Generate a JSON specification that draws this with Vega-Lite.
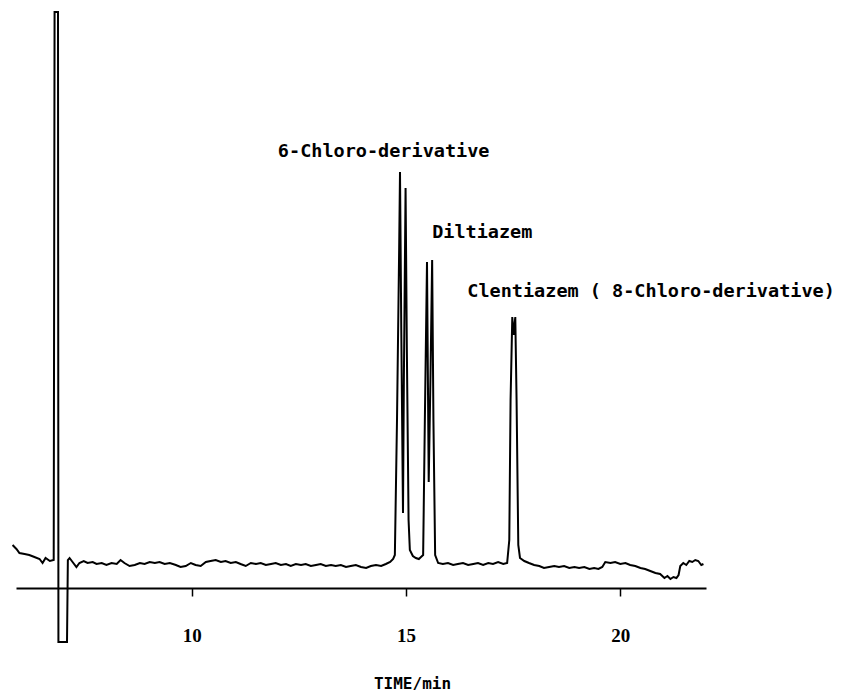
{
  "$schema": "https://vega.github.io/schema/vega-lite/v6.json",
  "width": 690,
  "height": 576,
  "autosize": {"type": "none"},
  "padding": {"left": 16, "top": 12, "right": 139, "bottom": 103},
  "background": "white",
  "config": {"view": {"stroke": null}},
  "layer": [
    {
      "data": {"values": [
        {"t": 5.82, "v": 43}, {"t": 5.91, "v": 39}, {"t": 5.98, "v": 35}, {"t": 6.10, "v": 34}, {"t": 6.21, "v": 33},
        {"t": 6.33, "v": 31}, {"t": 6.45, "v": 29}, {"t": 6.52, "v": 25}, {"t": 6.59, "v": 30}, {"t": 6.69, "v": 27},
        {"t": 6.78, "v": 28}, {"t": 6.80, "v": 576}, {"t": 6.88, "v": 576}, {"t": 6.89, "v": -54}, {"t": 7.09, "v": -54},
        {"t": 7.11, "v": 28}, {"t": 7.15, "v": 30}, {"t": 7.22, "v": 26}, {"t": 7.31, "v": 21}, {"t": 7.38, "v": 25},
        {"t": 7.48, "v": 27}, {"t": 7.57, "v": 25}, {"t": 7.69, "v": 26}, {"t": 7.78, "v": 24}, {"t": 7.90, "v": 25},
        {"t": 8.01, "v": 23}, {"t": 8.13, "v": 25}, {"t": 8.25, "v": 24}, {"t": 8.34, "v": 28}, {"t": 8.43, "v": 25},
        {"t": 8.55, "v": 22}, {"t": 8.67, "v": 23}, {"t": 8.79, "v": 25}, {"t": 8.90, "v": 24}, {"t": 9.02, "v": 26},
        {"t": 9.14, "v": 25}, {"t": 9.25, "v": 26}, {"t": 9.37, "v": 24}, {"t": 9.49, "v": 25}, {"t": 9.63, "v": 23},
        {"t": 9.74, "v": 21}, {"t": 9.86, "v": 22}, {"t": 9.98, "v": 25}, {"t": 10.09, "v": 23}, {"t": 10.21, "v": 22},
        {"t": 10.33, "v": 26}, {"t": 10.44, "v": 27}, {"t": 10.56, "v": 28}, {"t": 10.68, "v": 26}, {"t": 10.79, "v": 27},
        {"t": 10.91, "v": 25}, {"t": 11.03, "v": 26}, {"t": 11.14, "v": 24}, {"t": 11.26, "v": 22}, {"t": 11.38, "v": 25},
        {"t": 11.50, "v": 24}, {"t": 11.61, "v": 25}, {"t": 11.73, "v": 23}, {"t": 11.85, "v": 24}, {"t": 11.96, "v": 25},
        {"t": 12.08, "v": 23}, {"t": 12.20, "v": 24}, {"t": 12.31, "v": 22}, {"t": 12.43, "v": 24}, {"t": 12.55, "v": 23},
        {"t": 12.66, "v": 24}, {"t": 12.78, "v": 22}, {"t": 12.90, "v": 23}, {"t": 13.01, "v": 24}, {"t": 13.13, "v": 22},
        {"t": 13.25, "v": 23}, {"t": 13.36, "v": 22}, {"t": 13.48, "v": 23}, {"t": 13.60, "v": 21}, {"t": 13.71, "v": 22},
        {"t": 13.83, "v": 23}, {"t": 13.95, "v": 21}, {"t": 14.07, "v": 20}, {"t": 14.18, "v": 22}, {"t": 14.30, "v": 23},
        {"t": 14.42, "v": 22}, {"t": 14.53, "v": 24}, {"t": 14.63, "v": 26}, {"t": 14.70, "v": 29}, {"t": 14.74, "v": 33},
        {"t": 14.79, "v": 168}, {"t": 14.84, "v": 338}, {"t": 14.86, "v": 416}, {"t": 14.89, "v": 258}, {"t": 14.93, "v": 75},
        {"t": 14.95, "v": 208}, {"t": 14.99, "v": 400}, {"t": 15.02, "v": 238}, {"t": 15.06, "v": 68}, {"t": 15.09, "v": 38},
        {"t": 15.16, "v": 32}, {"t": 15.23, "v": 30}, {"t": 15.30, "v": 29}, {"t": 15.35, "v": 31}, {"t": 15.40, "v": 33},
        {"t": 15.44, "v": 168}, {"t": 15.49, "v": 326}, {"t": 15.53, "v": 106}, {"t": 15.57, "v": 208}, {"t": 15.61, "v": 328},
        {"t": 15.64, "v": 168}, {"t": 15.68, "v": 33}, {"t": 15.75, "v": 25}, {"t": 15.86, "v": 24}, {"t": 15.98, "v": 25},
        {"t": 16.10, "v": 23}, {"t": 16.21, "v": 24}, {"t": 16.33, "v": 25}, {"t": 16.45, "v": 23}, {"t": 16.57, "v": 24},
        {"t": 16.68, "v": 25}, {"t": 16.80, "v": 23}, {"t": 16.92, "v": 25}, {"t": 17.03, "v": 24}, {"t": 17.15, "v": 26},
        {"t": 17.27, "v": 24}, {"t": 17.36, "v": 25}, {"t": 17.41, "v": 48}, {"t": 17.44, "v": 188}, {"t": 17.48, "v": 271},
        {"t": 17.51, "v": 253}, {"t": 17.55, "v": 271}, {"t": 17.58, "v": 188}, {"t": 17.62, "v": 43}, {"t": 17.66, "v": 30},
        {"t": 17.76, "v": 27}, {"t": 17.87, "v": 25}, {"t": 17.99, "v": 23}, {"t": 18.11, "v": 22}, {"t": 18.22, "v": 20},
        {"t": 18.34, "v": 21}, {"t": 18.46, "v": 22}, {"t": 18.57, "v": 21}, {"t": 18.69, "v": 22}, {"t": 18.81, "v": 20},
        {"t": 18.93, "v": 21}, {"t": 19.04, "v": 20}, {"t": 19.16, "v": 21}, {"t": 19.28, "v": 19}, {"t": 19.39, "v": 20},
        {"t": 19.49, "v": 19}, {"t": 19.58, "v": 21}, {"t": 19.65, "v": 26}, {"t": 19.77, "v": 25}, {"t": 19.88, "v": 26},
        {"t": 20.00, "v": 24}, {"t": 20.12, "v": 25}, {"t": 20.23, "v": 23}, {"t": 20.35, "v": 22}, {"t": 20.47, "v": 20},
        {"t": 20.58, "v": 19}, {"t": 20.70, "v": 17}, {"t": 20.82, "v": 15}, {"t": 20.93, "v": 14}, {"t": 21.03, "v": 10},
        {"t": 21.10, "v": 12}, {"t": 21.17, "v": 9}, {"t": 21.24, "v": 11}, {"t": 21.31, "v": 10}, {"t": 21.36, "v": 13},
        {"t": 21.40, "v": 22}, {"t": 21.47, "v": 25}, {"t": 21.54, "v": 23}, {"t": 21.61, "v": 27}, {"t": 21.68, "v": 26},
        {"t": 21.75, "v": 28}, {"t": 21.82, "v": 27}, {"t": 21.89, "v": 23}, {"t": 21.94, "v": 24}
      ]},
      "mark": {"type": "line", "color": "black", "strokeWidth": 2},
      "encoding": {
        "x": {
          "field": "t", "type": "quantitative",
          "scale": {"domain": [5.9, 22.0], "nice": false, "zero": false},
          "axis": {
            "values": [10, 15, 20],
            "grid": false,
            "domainColor": "black", "domainWidth": 2,
            "tickColor": "black", "tickWidth": 1.5, "tickSize": 8,
            "labelFont": "Liberation Serif", "labelFontWeight": "bold", "labelFontSize": 19,
            "labelColor": "black", "labelPadding": 30, "labelFlush": false,
            "title": "TIME/min",
            "titleFont": "DejaVu Sans Mono", "titleFontWeight": "bold", "titleFontSize": 16,
            "titleColor": "black", "titleX": 396, "titleY": 95, "titleAlign": "center", "titleBaseline": "middle"
          }
        },
        "y": {
          "field": "v", "type": "quantitative",
          "scale": {"domain": [0, 576], "nice": false, "zero": false},
          "axis": null
        }
      }
    },
    {
      "data": {"values": [
        {"t": 12.01, "v": 437, "label": "6-Chloro-derivative"},
        {"t": 15.61, "v": 356, "label": "Diltiazem"},
        {"t": 16.43, "v": 297, "label": "Clentiazem ( 8-Chloro-derivative)"}
      ]},
      "mark": {"type": "text", "align": "left", "baseline": "middle", "font": "DejaVu Sans Mono", "fontWeight": "bold", "fontSize": 18.5, "color": "black"},
      "encoding": {
        "x": {"field": "t", "type": "quantitative"},
        "y": {"field": "v", "type": "quantitative"},
        "text": {"field": "label"}
      }
    }
  ]
}
